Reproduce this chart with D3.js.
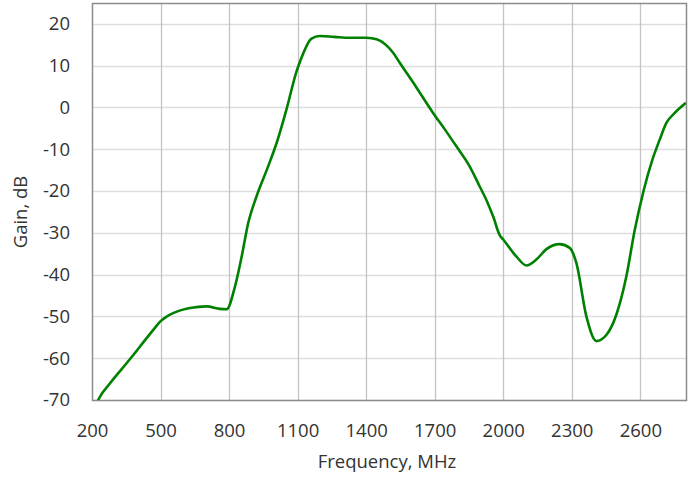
<!DOCTYPE html>
<html><head><meta charset="utf-8">
<script src="https://cdn.jsdelivr.net/npm/d3@7"></script>
<style>body{margin:0;background:#fff}svg{display:block}text{font-family:"Open Sans","Noto Sans",sans-serif;fill:#333}</style>
</head><body><svg id="c" width="695" height="479"></svg>
<script>
const freq = [205,227,279,330,380,439,470,497,525,560,629,702,760,789,826,855,884,920,971,1008,1051,1095,1114,1161,1197,1260,1329,1402,1446,1482,1518,1547,1620,1693,1745,1795,1850,1897,1930,1956,1985,2000,2058,2102,2145,2189,2247,2291,2320,2364,2408,2452,2495,2539,2575,2615,2653,2685,2714,2751,2800];
const gain = [-73,-70,-66,-62.6,-59.3,-55.2,-53.1,-51.3,-50.1,-49.1,-48,-47.6,-48.2,-48.3,-42.8,-35.7,-27.6,-21.3,-14.1,-8.5,-0.5,8.6,11.5,16.5,17.1,16.9,16.7,16.7,16.3,15.2,13.1,10.7,4.8,-1.3,-5.3,-9.3,-13.8,-18.9,-22.6,-26.1,-30.6,-31.6,-35.7,-37.8,-36.4,-33.9,-32.7,-33.6,-37.2,-50,-55.9,-54.4,-49.6,-40.4,-29.5,-19.8,-12.5,-7.7,-3.7,-1.3,1.1];
const xTicks = [200,500,800,1100,1400,1700,2000,2300,2600];
const yTicks = [-70,-60,-50,-40,-30,-20,-10,0,10,20];

const svg = d3.select("#c");
const L=92,R=686,T=3,B=400;
const x = d3.scaleLinear().domain([200,2800]).range([L,R]);
const y = d3.scaleLinear().domain([-70,25]).range([B,T]);

const g = svg.append("g");
g.selectAll(".hg").data(yTicks).enter().append("line")
 .attr("x1",L).attr("x2",R).attr("y1",d=>Math.round(y(d))+0.5).attr("y2",d=>Math.round(y(d))+0.5)
 .attr("stroke","#dddddd").attr("stroke-width",1.3);
g.selectAll(".vg").data(xTicks.slice(1)).enter().append("line")
 .attr("y1",T).attr("y2",B).attr("x1",d=>Math.round(x(d))+0.5).attr("x2",d=>Math.round(x(d))+0.5)
 .attr("stroke","#c4c4c4").attr("stroke-width",1.3);
svg.append("rect").attr("x",L+0.5).attr("y",T+0.5).attr("width",R-L).attr("height",B-T)
 .attr("fill","none").attr("stroke","#8c8c8c").attr("stroke-width",1.5);

svg.append("defs").append("clipPath").attr("id","clip").append("rect")
 .attr("x",L).attr("y",T).attr("width",R-L).attr("height",B-T);

const data = freq.map((f,i)=>[f,gain[i]]);
svg.append("path").datum(data).attr("clip-path","url(#clip)")
 .attr("fill","none").attr("stroke","#008000").attr("stroke-width",2.6)
 .attr("d",d3.line().x(d=>x(d[0])).y(d=>y(d[1])).curve(d3.curveMonotoneX));

const fmt = d => String(d);
const xa = svg.append("g").attr("transform",`translate(0,${B})`)
 .call(d3.axisBottom(x).tickValues(xTicks).tickSize(0).tickPadding(24).tickFormat(fmt));
xa.select(".domain").remove();
xa.selectAll("text").style("font-size","18.5px").attr("fill","#333");
const ya = svg.append("g").attr("transform",`translate(${L},0)`)
 .call(d3.axisLeft(y).tickValues(yTicks).tickSize(0).tickPadding(22).tickFormat(fmt));
ya.select(".domain").remove();
ya.selectAll("text").style("font-size","18.5px").attr("fill","#333");

svg.append("text").attr("x",387).attr("y",468).attr("text-anchor","middle")
 .style("font-size","18.5px").text("Frequency, MHz");
svg.append("text").attr("transform","translate(27,212) rotate(-90)").attr("text-anchor","middle")
 .style("font-size","18.5px").text("Gain, dB");
</script></body></html>
